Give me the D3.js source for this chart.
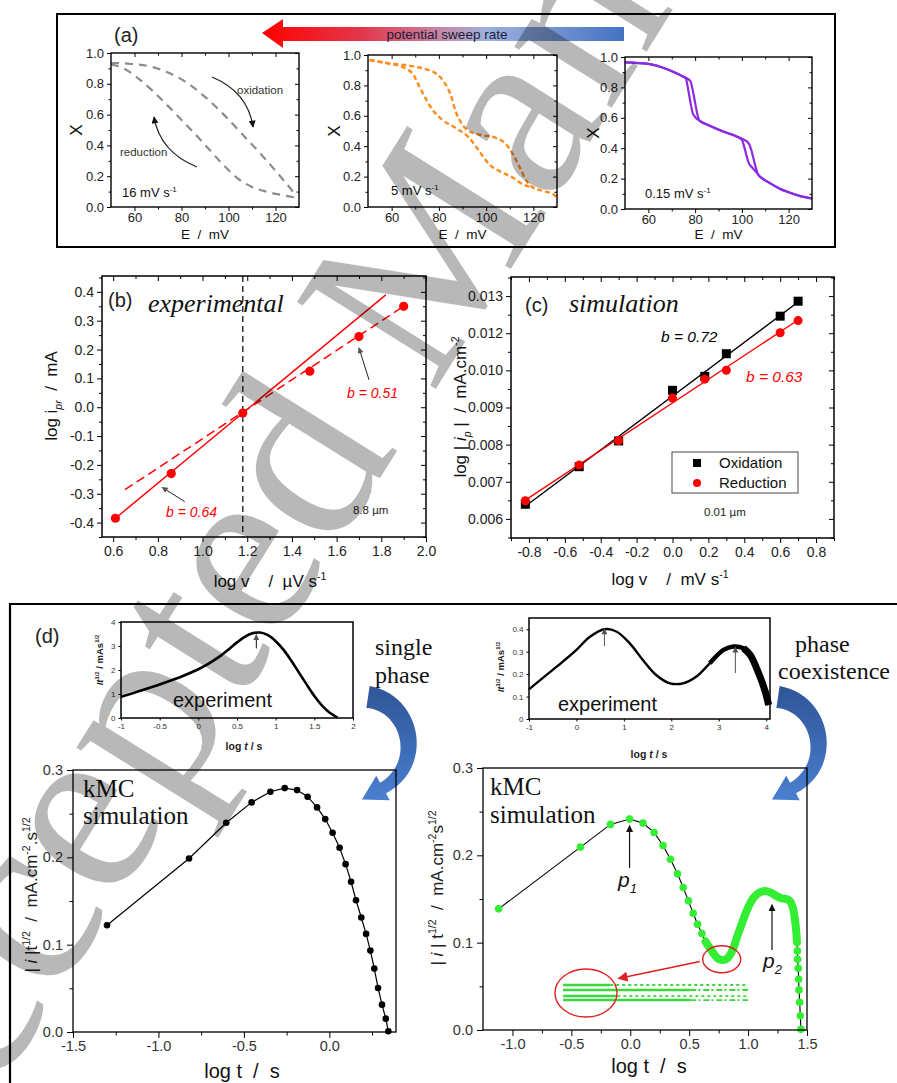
<!DOCTYPE html>
<html><head><meta charset="utf-8">
<script src="https://cdn.jsdelivr.net/npm/d3@7/dist/d3.min.js"></script>
<style>
body{margin:0;background:#fff}
svg{display:block}
text{white-space:pre}
</style></head><body>
<script>
// ================= data =================
// (a) fraction X vs potential E (mV), three sweep rates
const E16ox  = [50,58,66,74,82,90,98,106,114,122,129];
const X16ox  = [0.935,0.93,0.915,0.875,0.81,0.715,0.6,0.47,0.34,0.2,0.07];
const E16red = [50,56,62,68,74,80,86,92,98,104,110,116,122,129];
const X16red = [0.925,0.895,0.83,0.75,0.66,0.565,0.47,0.37,0.27,0.185,0.13,0.1,0.08,0.06];

const E5ox  = [50.7,58.6,65.7,72.9,78.6,82.1,85,87.1,90,94.3,98.6,104.3,108.6,111.4,114.3,117.1,120,124.3,128.6,130];
const X5ox  = [0.967,0.945,0.934,0.913,0.88,0.825,0.738,0.629,0.541,0.487,0.472,0.454,0.41,0.345,0.258,0.17,0.127,0.105,0.083,0.065];
const E5red = [50.7,58.6,65.7,69.3,71.4,74.3,77.9,81.4,87.1,92.9,97.1,101.4,105.7,111.4,115.7,120];
const X5red = [0.967,0.945,0.913,0.869,0.803,0.716,0.629,0.574,0.52,0.454,0.367,0.279,0.236,0.192,0.148,0.127];

const E015ox  = [50,60,68,75,77,78,79,80,81,82,86,92,98,101,103,104,105,106,107,108,112,116,120,125,130];
const X015ox  = [0.965,0.955,0.92,0.87,0.855,0.84,0.78,0.70,0.62,0.58,0.55,0.51,0.475,0.455,0.43,0.39,0.33,0.27,0.225,0.21,0.17,0.135,0.11,0.085,0.07];
const E015red = [50,60,68,75,76,77,78,79,80,82,86,92,98,100,101,102,103,104,106,108,112,116,120,125,130];
const X015red = [0.965,0.955,0.92,0.87,0.86,0.79,0.70,0.63,0.605,0.58,0.55,0.51,0.475,0.455,0.41,0.35,0.30,0.28,0.245,0.21,0.17,0.135,0.11,0.085,0.07];

// (b) experimental peak currents
const bLogV = [0.61,0.86,1.18,1.48,1.70,1.90];
const bLogI = [-0.385,-0.23,-0.02,0.125,0.245,0.35];
const bSlopes = [0.64, 0.51];           // fitted slopes b
const bFitFrom = [[0.61,1.82],[0.653,1.90]];
const bSplit = 1.18;

// (c) simulated peak currents
const cLogV = [-0.82,-0.52,-0.30,0.0,0.18,0.30,0.60,0.70];
const cOx   = [0.00646,0.00764,0.00845,0.01004,0.01048,0.01119,0.01237,0.01284];
const cRed  = [0.00657,0.00769,0.00846,0.00980,0.01039,0.01067,0.01185,0.01223];
const cYTickLabels = ["0.006","0.007","0.008","0.009","0.010","0.012","0.013"];

// (d) transients, experiment insets
const expLT = [-1,-0.8,-0.6,-0.4,-0.2,0,0.1,0.2,0.3,0.4,0.5,0.6,0.7,0.8,0.9,1.0,1.1,1.2,1.3,1.4,1.5,1.6,1.7,1.8];
const expLJ = [0.88,1.08,1.29,1.51,1.75,2.03,2.2,2.4,2.62,2.88,3.15,3.38,3.53,3.56,3.45,3.20,2.85,2.40,1.90,1.40,0.92,0.52,0.22,0.02];
const expRT = [-1.0,-0.72,-0.37,0.0,0.27,0.59,0.84,1.12,1.40,1.68,1.97,2.25,2.53,2.81,3.10,3.31,3.52,3.66,3.84,3.98,4.05];
const expRJ = [0.132,0.181,0.241,0.308,0.364,0.400,0.39,0.338,0.263,0.196,0.159,0.159,0.189,0.248,0.308,0.323,0.315,0.286,0.204,0.122,0.062];

// (d) kMC simulation, single phase
const dLeftT = [-1.301,-0.821,-0.603,-0.455,-0.345,-0.261,-0.189,-0.127,-0.072,-0.024,0.019,0.060,0.095,0.127,0.156,0.187,0.215,0.240,0.263,0.285,0.308,0.330,0.345];
const dLeftJ = [0.1223,0.1987,0.2396,0.2629,0.2751,0.2793,0.2770,0.2694,0.2572,0.2438,0.2281,0.2109,0.1922,0.1720,0.1509,0.1311,0.1123,0.0932,0.0726,0.0504,0.0313,0.0153,0.0008];

// (d) kMC simulation, phase coexistence
const dRightT = [-1.117,-0.423,-0.168,-0.006,0.108,0.202,0.278,0.341,0.401,0.449,0.494,0.534,0.571,0.608,0.639];
const dRightJ = [0.1387,0.2094,0.2354,0.2415,0.2369,0.2262,0.2113,0.1956,0.1788,0.1632,0.1479,0.1337,0.1211,0.1104,0.1013];
const dRightDenseT = [0.676,0.710,0.741,0.776,0.813,0.847,0.875,0.903,0.938,0.974,1.011,1.051,1.097,1.145,1.193,1.239,1.287,1.330,1.358,1.381,1.398,1.409,1.415];
const dRightDenseJ = [0.0936,0.0871,0.0822,0.0802,0.0810,0.0860,0.0936,0.1051,0.1185,0.1318,0.1433,0.1521,0.1574,0.1593,0.1574,0.1536,0.1506,0.1498,0.1471,0.1395,0.1261,0.1127,0.1005];
const dRightTailT = [1.418,1.420,1.426,1.429,1.432,1.438,1.443,1.449];
const dRightTailJ = [0.0906,0.0810,0.0707,0.0581,0.0459,0.0317,0.0164,0.0008];
const zoomRowsJ = [0.0515,0.0458,0.0389,0.0343];
const zoomRowsDenseEnd = [-0.17,0.51,-0.11,0.51];

// ================= drawing =================
const SANS = "'Liberation Sans', Arial, Helvetica, sans-serif";
const SERIF = "'Liberation Serif', 'Times New Roman', serif";
const W = 897, H = 1083;
const svg = d3.select("body").append("svg").attr("width", W).attr("height", H).attr("font-family", SANS);
const defs = svg.append("defs");

function marker(id, color, w, h) {
  defs.append("marker").attr("id", id).attr("viewBox", "0 0 10 10").attr("refX", 9).attr("refY", 5)
    .attr("markerWidth", w).attr("markerHeight", h).attr("markerUnits", "userSpaceOnUse").attr("orient", "auto")
    .append("path").attr("d", "M0,0L10,5L0,10z").attr("fill", color);
}
marker("ah-black", "#111", 8, 7);
marker("ah-gray", "#555", 7, 6);
marker("ah-red", "#e02020", 12, 10);

const f1 = v => (Math.abs(v) < 1e-9 ? 0 : v).toFixed(1);
const fLoose = v => String(Math.round(v * 10) / 10);

// text with italic / super / subscript pieces
function rich(text, parts, fs) {
  let shift = 0;
  parts.forEach(p => {
    const [s, k = ""] = typeof p === "string" ? [p, ""] : p;
    const target = k.includes("^") ? -0.42 * fs : k.includes("_") ? 0.28 * fs : 0;
    const t = text.append("tspan").attr("dy", target - shift).text(s);
    shift = target;
    if (k.includes("^") || k.includes("_")) t.attr("font-size", fs * 0.62);
    if (k.includes("i")) t.attr("font-style", "italic");
  });
}
function label(g, x, y, parts, o = {}) {
  const fs = o.fs || 14;
  const t = g.append("text").attr("x", x).attr("y", y).attr("font-size", fs)
    .attr("font-family", o.family || SANS).attr("fill", o.fill || "#111")
    .attr("text-anchor", o.anchor || "start");
  if (o.rotate) t.attr("transform", `rotate(${o.rotate},${x},${y})`);
  if (o.weight) t.attr("font-weight", o.weight);
  if (o.style) t.attr("font-style", o.style);
  rich(t, typeof parts === "string" ? [parts] : parts, fs);
  return t;
}

// boxed axes with major/minor ticks
function axes(g, x, y, o) {
  const [xa, xb] = x.range(), [ya, yb] = y.range();
  const T = o.T ?? 5, t = o.t ?? 3, fs = o.fs ?? 13, col = o.col || "#000";
  const style = s => {
    s.select(".domain").remove();
    s.selectAll("line").attr("stroke", col).attr("stroke-width", o.tw || 1);
    s.selectAll("text").attr("font-family", SANS).attr("font-size", fs).attr("fill", o.lc || "#222")
      .attr("font-weight", o.lw || null);
  };
  const add = (gen, tx, ty) => g.append("g").attr("transform", `translate(${tx},${ty})`).call(gen).call(style);
  add(d3.axisBottom(x).tickValues(o.xt).tickFormat(o.xf).tickSize(T).tickPadding(o.xp ?? 3), 0, ya);
  if (o.xm) add(d3.axisBottom(x).tickValues(o.xm).tickFormat("").tickSize(t), 0, ya);
  add(d3.axisLeft(y).tickValues(o.yt).tickFormat(o.yf).tickSize(T).tickPadding(o.yp ?? 3), xa, 0);
  if (o.ym) add(d3.axisLeft(y).tickValues(o.ym).tickFormat("").tickSize(t), xa, 0);
  if (o.inner) {
    add(d3.axisTop(x).tickValues(o.xt).tickFormat("").tickSize(-T), 0, yb);
    if (o.xm) add(d3.axisTop(x).tickValues(o.xm).tickFormat("").tickSize(-t), 0, yb);
    add(d3.axisRight(y).tickValues(o.yt).tickFormat("").tickSize(-T), xb, 0);
    if (o.ym) add(d3.axisRight(y).tickValues(o.ym).tickFormat("").tickSize(-t), xb, 0);
  }
  g.append("rect").attr("x", xa).attr("y", yb).attr("width", xb - xa).attr("height", ya - yb)
    .attr("fill", "none").attr("stroke", col).attr("stroke-width", o.sw || 1.5);
}
const zip = (a, b) => a.map((v, i) => [v, b[i]]);

// ---------- (a) ----------
const ga = svg.append("g");
ga.append("rect").attr("x", 57).attr("y", 14).attr("width", 778).attr("height", 233)
  .attr("fill", "none").attr("stroke", "#000").attr("stroke-width", 2);
label(ga, 114, 42, "(a)", { fs: 20, fill: "#222" });

const sweep = defs.append("linearGradient").attr("id", "sweep");
[[0, "#ff0000"], [0.28, "#e2384e"], [0.5, "#c48aa6"], [0.62, "#9eb0dc"], [1, "#4472c4"]]
  .forEach(([o, c]) => sweep.append("stop").attr("offset", o).attr("stop-color", c));
ga.append("path").attr("d", "M262,33L283,19L283,27L624,27L624,41L283,41L283,48Z").attr("fill", "url(#sweep)");
label(ga, 447, 38.5, "potential sweep rate", { fs: 13.5, anchor: "middle", fill: "#1c1c3a" });

const aPanels = [
  { xr: [111, 299], yr: [207, 53], data: [[E16ox, X16ox], [E16red, X16red]], color: "#8c8c8c", dash: "8,6", w: 2.2,
    rate: ["16 mV s", ["-1", "^"]], rx: 122, ry: 197, ylx: 82 },
  { xr: [368, 557], yr: [207, 55], data: [[E5ox, X5ox], [E5red, X5red]], color: "#ff8c1a", dash: "5,3", w: 2.4,
    rate: ["5 mV s", ["-1", "^"]], rx: 391, ry: 195, ylx: 340 },
  { xr: [625, 812], yr: [209, 57], data: [[E015ox, X015ox], [E015red, X015red]], color: "#8a2be2", dash: null, w: 2.2,
    rate: ["0.15 mV s", ["-1", "^"]], rx: 645, ry: 198, ylx: 599 },
];
aPanels.forEach(p => {
  const x = d3.scaleLinear().domain([50, 130]).range(p.xr);
  const y = d3.scaleLinear().domain([0, 1]).range(p.yr);
  const g = ga.append("g");
  const line = d3.line().x(d => x(d[0])).y(d => y(d[1])).curve(d3.curveMonotoneX);
  p.data.forEach(([E, X]) => {
    g.append("path").attr("d", line(zip(E, X))).attr("fill", "none").attr("stroke", p.color)
      .attr("stroke-width", p.w).attr("stroke-dasharray", p.dash);
  });
  axes(g, x, y, { xt: [60, 80, 100, 120], xm: [70, 90, 110], xf: d => d,
    yt: [0, 0.2, 0.4, 0.6, 0.8, 1.0], ym: [0.1, 0.3, 0.5, 0.7, 0.9], yf: f1,
    fs: 13, T: 4, t: 2.5, inner: true, sw: 1.4, xp: 2, yp: 3 });
  label(g, (p.xr[0] + p.xr[1]) / 2, 239, "E  /  mV", { fs: 13.5, anchor: "middle" });
  label(g, p.ylx, (p.yr[0] + p.yr[1]) / 2, "X", { fs: 17, anchor: "middle", rotate: -90 });
  label(g, p.rx, p.ry, p.rate, { fs: 13 });
});
// direction hints in the 16 mV/s plot
ga.append("path").attr("d", "M212,77Q248,92 253,127").attr("fill", "none").attr("stroke", "#222")
  .attr("stroke-width", 1.3).attr("marker-end", "url(#ah-black)");
ga.append("path").attr("d", "M197,167Q160,152 154,117").attr("fill", "none").attr("stroke", "#222")
  .attr("stroke-width", 1.3).attr("marker-end", "url(#ah-black)");
label(ga, 237, 94, "oxidation", { fs: 11.5, fill: "#333" });
label(ga, 120, 156, "reduction", { fs: 11.5, fill: "#333" });

// ---------- (b) ----------
const gb = svg.append("g");
const xB = d3.scaleLinear().domain([0.55, 2.0]).range([102, 426]);
const yB = d3.scaleLinear().domain([-0.45, 0.455]).range([537, 276]);
gb.append("line").attr("x1", xB(bSplit)).attr("x2", xB(bSplit)).attr("y1", yB.range()[1]).attr("y2", yB.range()[0])
  .attr("stroke", "#333").attr("stroke-width", 1.5).attr("stroke-dasharray", "6,4");
// fitted lines: solid through the first point, dashed through the last
[[0, bLogV[0], bLogI[0], null], [1, bLogV[5], bLogI[5], "9,5"]].forEach(([k, x0, y0, dash]) => {
  const [a, b] = bFitFrom[k];
  gb.append("line").attr("x1", xB(a)).attr("y1", yB(y0 + bSlopes[k] * (a - x0)))
    .attr("x2", xB(b)).attr("y2", yB(y0 + bSlopes[k] * (b - x0)))
    .attr("stroke", "#ff0000").attr("stroke-width", 1.5).attr("stroke-dasharray", dash);
});
gb.selectAll("circle").data(zip(bLogV, bLogI)).join("circle")
  .attr("cx", d => xB(d[0])).attr("cy", d => yB(d[1])).attr("r", 4.6).attr("fill", "#ff0000");
axes(gb, xB, yB, { xt: d3.range(6, 21, 2).map(v => v / 10), xm: d3.range(7, 20, 2).map(v => v / 10), xf: f1,
  yt: d3.range(-4, 5).map(v => v / 10), ym: d3.range(-45, 46, 10).map(v => v / 100), yf: f1,
  fs: 14, T: 5, t: 3, inner: true, sw: 1.5, xp: 4, yp: 3 });
gb.append("line").attr("x1", xB(0.92)).attr("y1", yB(-0.327)).attr("x2", xB(0.819)).attr("y2", yB(-0.278))
  .attr("stroke", "#222").attr("stroke-width", 1).attr("marker-end", "url(#ah-gray)");
gb.append("line").attr("x1", xB(1.745)).attr("y1", yB(0.095)).attr("x2", xB(1.70)).attr("y2", yB(0.206))
  .attr("stroke", "#222").attr("stroke-width", 1).attr("marker-end", "url(#ah-gray)");
label(gb, 166, 517, [["b", "i"], [" = 0.64", "i"]], { fs: 14, fill: "#ff0000" });
label(gb, 347, 398, [["b", "i"], [" = 0.51", "i"]], { fs: 14, fill: "#ff0000" });
label(gb, 353, 514, "8.8 µm", { fs: 11.5, fill: "#222" });
label(gb, 108, 307, "(b)", { fs: 20, fill: "#222" });
label(gb, 148, 312, "experimental", { fs: 26, family: SERIF, style: "italic", fill: "#111" });
label(gb, 57, 396, ["log i", ["pr", "_i"], "  /  mA"], { fs: 17, anchor: "middle", rotate: -90 });
label(gb, 270, 587, ["log v    /  µV s", ["-1", "^"]], { fs: 17, anchor: "middle" });

// ---------- (c) ----------
const gc = svg.append("g");
const xC = d3.scaleLinear().domain([-0.9, 0.9]).range([511, 834]);
const yC = d3.scaleLinear().domain([0.0054, 0.0136]).range([538, 277]);
const cYTicks = cYTickLabels.map((_, i) => 0.006 + i * 0.007 / 6);
function fit(xs, ys) {
  const mx = d3.mean(xs), my = d3.mean(ys);
  const s = d3.sum(xs, (v, i) => (v - mx) * (ys[i] - my)) / d3.sum(xs, v => (v - mx) ** 2);
  return v => my + s * (v - mx);
}
[[cOx, "#000"], [cRed, "#ff0000"]].forEach(([ys, c]) => {
  const f = fit(cLogV, ys), a = d3.min(cLogV), b = d3.max(cLogV);
  gc.append("line").attr("x1", xC(a)).attr("y1", yC(f(a))).attr("x2", xC(b)).attr("y2", yC(f(b)))
    .attr("stroke", c).attr("stroke-width", 1.4);
});
gc.selectAll("rect.ox").data(zip(cLogV, cOx)).join("rect").attr("class", "ox")
  .attr("x", d => xC(d[0]) - 4.5).attr("y", d => yC(d[1]) - 4.5).attr("width", 9).attr("height", 9).attr("fill", "#000");
gc.selectAll("circle.red").data(zip(cLogV, cRed)).join("circle").attr("class", "red")
  .attr("cx", d => xC(d[0])).attr("cy", d => yC(d[1])).attr("r", 4.5).attr("fill", "#ff0000");
axes(gc, xC, yC, { xt: d3.range(-8, 9, 2).map(v => v / 10), xm: d3.range(-9, 10, 2).map(v => v / 10), xf: f1,
  yt: cYTicks, ym: cYTicks.slice(1).map((v, i) => (v + cYTicks[i]) / 2).concat([0.013 + 0.007 / 12, 0.006 - 0.007 / 12]),
  yf: (v, i) => cYTickLabels[i], fs: 14, T: 5, t: 3, inner: true, sw: 1.5, xp: 4, yp: 3 });
gc.append("rect").attr("x", 672).attr("y", 452).attr("width", 126).attr("height", 41)
  .attr("fill", "#fff").attr("stroke", "#666").attr("stroke-width", 1.2);
gc.append("rect").attr("x", 693).attr("y", 459).attr("width", 8).attr("height", 8).attr("fill", "#000");
gc.append("circle").attr("cx", 697).attr("cy", 483).attr("r", 4).attr("fill", "#ff0000");
label(gc, 719, 468, "Oxidation", { fs: 15 });
label(gc, 719, 488, "Reduction", { fs: 15 });
label(gc, 661, 342, [["b", "i"], [" = 0.72", "i"]], { fs: 15.5, fill: "#000" });
label(gc, 746, 382, [["b", "i"], [" = 0.63", "i"]], { fs: 15.5, fill: "#ff0000" });
label(gc, 704, 516, "0.01 µm", { fs: 11.5, fill: "#222" });
label(gc, 525, 312, "(c)", { fs: 20, fill: "#222" });
label(gc, 569, 312, "simulation", { fs: 26, family: SERIF, style: "italic", fill: "#111" });
label(gc, 466, 407, ["log | ", ["i", "i"], ["p", "_i"], " |  /  mA.cm", ["-2", "^"]], { fs: 17, anchor: "middle", rotate: -90 });
label(gc, 670, 585, ["log v    /  mV s", ["-1", "^"]], { fs: 17, anchor: "middle" });

// ---------- (d) ----------
const gd = svg.append("g");
gd.append("path").attr("d", "M10,1083L10,604L897,604").attr("fill", "none").attr("stroke", "#000").attr("stroke-width", 2.2);
label(gd, 35, 643, "(d)", { fs: 20, fill: "#222" });

// experiment insets
const xIL = d3.scaleLinear().domain([-1, 2]).range([121, 353]);
const yIL = d3.scaleLinear().domain([0, 4]).range([718, 622]);
gd.append("path").attr("d", d3.line().x(d => xIL(d[0])).y(d => yIL(d[1])).curve(d3.curveCatmullRom)(zip(expLT, expLJ)))
  .attr("fill", "none").attr("stroke", "#000").attr("stroke-width", 2.6);
axes(gd, xIL, yIL, { xt: d3.range(-10, 21, 5).map(v => v / 10), xf: fLoose, yt: [0, 1, 2, 3, 4], yf: d => d,
  fs: 8, T: 2.5, inner: false, sw: 1.5, xp: 3, yp: 3, lc: "#333" });
gd.append("line").attr("x1", xIL(0.75)).attr("y1", yIL(2.9)).attr("x2", xIL(0.75)).attr("y2", yIL(3.47))
  .attr("stroke", "#111").attr("stroke-width", 1).attr("marker-end", "url(#ah-gray)");
label(gd, 173, 707, "experiment", { fs: 20, fill: "#111" });
label(gd, 103, 660, [["It", "i"], ["1/2", "^"], " / mAs", ["1/2", "^"]], { fs: 9.5, anchor: "middle", rotate: -90, weight: "bold", fill: "#222" });
label(gd, 244, 750, ["log ", ["t", "i"], " / s"], { fs: 10.5, anchor: "middle", weight: "bold", fill: "#222" });

const xIR = d3.scaleLinear().domain([-1, 4.08]).range([529, 770]);
const yIR = d3.scaleLinear().domain([0, 0.45]).range([719, 618]);
const lineIR = d3.line().x(d => xIR(d[0])).y(d => yIR(d[1])).curve(d3.curveCatmullRom);
const expR = zip(expRT, expRJ);
gd.append("path").attr("d", lineIR(expR)).attr("fill", "none").attr("stroke", "#000").attr("stroke-width", 2.4);
gd.append("path").attr("d", lineIR(expR.filter(d => d[0] >= 2.8))).attr("fill", "none").attr("stroke", "#000").attr("stroke-width", 4.5);
gd.append("path").attr("d", lineIR(expR.filter(d => d[0] >= 3.5))).attr("fill", "none").attr("stroke", "#000").attr("stroke-width", 7);
axes(gd, xIR, yIR, { xt: [-1, 0, 1, 2, 3, 4], xf: d => d, yt: [0, 0.1, 0.2, 0.3, 0.4], yf: d => (d === 0 ? "0" : d.toFixed(1)),
  fs: 8, T: 2.5, inner: false, sw: 1.5, xp: 3, yp: 3, lc: "#333" });
gd.append("line").attr("x1", xIR(0.59)).attr("y1", yIR(0.325)).attr("x2", xIR(0.59)).attr("y2", yIR(0.402))
  .attr("stroke", "#555").attr("stroke-width", 1).attr("marker-end", "url(#ah-gray)");
gd.append("line").attr("x1", xIR(3.35)).attr("y1", yIR(0.205)).attr("x2", xIR(3.35)).attr("y2", yIR(0.32))
  .attr("stroke", "#555").attr("stroke-width", 1).attr("marker-end", "url(#ah-gray)");
label(gd, 558, 711, "experiment", { fs: 20, fill: "#111" });
label(gd, 504, 667, [["It", "i"], ["1/2", "^"], " / mAs", ["1/2", "^"]], { fs: 9.5, anchor: "middle", rotate: -90, weight: "bold", fill: "#222" });
label(gd, 649, 758, ["log ", ["t", "i"], " / s"], { fs: 10.5, anchor: "middle", weight: "bold", fill: "#222" });

label(gd, 375, 655, "single", { fs: 24, family: SERIF, fill: "#111" });
label(gd, 375, 683, "phase", { fs: 24, family: SERIF, fill: "#111" });
label(gd, 795, 652, "phase", { fs: 24, family: SERIF, fill: "#111" });
label(gd, 778, 679, "coexistence", { fs: 24, family: SERIF, fill: "#111" });

// curved blue arrows
const blue = defs.append("linearGradient").attr("id", "bluearrow").attr("x1", 0).attr("x2", 0).attr("y1", 0).attr("y2", 1);
[[0, "#2f5597"], [1, "#4a7fd0"]].forEach(([o, c]) => blue.append("stop").attr("offset", o).attr("stop-color", c));
function bendArrow(dx) {
  const S = [368 + dx, 697], C1 = [412 + dx, 703], C2 = [425 + dx, 765], P = [383 + dx, 788];
  const bez = t => [0, 1].map(k => (1 - t) ** 3 * S[k] + 3 * (1 - t) ** 2 * t * C1[k] + 3 * (1 - t) * t * t * C2[k] + t ** 3 * P[k]);
  const left = [], right = [];
  const N = 30;
  for (let i = 0; i <= N; i++) {
    const t = i / N, a = bez(Math.max(0, t - 0.01)), b = bez(Math.min(1, t + 0.01)), c = bez(t);
    const L = Math.hypot(b[0] - a[0], b[1] - a[1]), nx = -(b[1] - a[1]) / L, ny = (b[0] - a[0]) / L;
    const w = 11 - 5 * t;
    left.push([c[0] + nx * w, c[1] + ny * w]); right.push([c[0] - nx * w, c[1] - ny * w]);
  }
  const dir = [(P[0] - C2[0]), (P[1] - C2[1])], dl = Math.hypot(...dir);
  const ux = dir[0] / dl, uy = dir[1] / dl, nx = -uy, ny = ux;
  const head = [[P[0] + nx * 14, P[1] + ny * 14], [P[0] + ux * 24, P[1] + uy * 24], [P[0] - nx * 14, P[1] - ny * 14]];
  const pts = left.concat(head, right.reverse());
  gd.append("path").attr("d", "M" + pts.map(p => p.join(",")).join("L") + "Z").attr("fill", "url(#bluearrow)");
}
bendArrow(0); bendArrow(410);

// kMC, single phase
const xDL = d3.scaleLinear().domain([-1.5, 0.39]).range([73, 396]);
const yDL = d3.scaleLinear().domain([0, 0.3]).range([1032, 770]);
const dL = zip(dLeftT, dLeftJ);
gd.append("path").attr("d", d3.line().x(d => xDL(d[0])).y(d => yDL(d[1]))(dL)).attr("fill", "none").attr("stroke", "#000").attr("stroke-width", 1.2);
gd.selectAll("circle.dl").data(dL).join("circle").attr("class", "dl")
  .attr("cx", d => xDL(d[0])).attr("cy", d => yDL(d[1])).attr("r", 3.3).attr("fill", "#000");
axes(gd, xDL, yDL, { xt: [-1.5, -1.0, -0.5, 0.0], xm: [-1.25, -0.75, -0.25, 0.25], xf: f1,
  yt: [0, 0.1, 0.2, 0.3], ym: [0.05, 0.15, 0.25], yf: f1, fs: 14.5, T: 6, t: 3.5, inner: false, sw: 1.3, xp: 3, yp: 4, lc: "#333" });
label(gd, 83, 797, "kMC", { fs: 25, family: SERIF, fill: "#111" });
label(gd, 83, 824, "simulation", { fs: 25, family: SERIF, fill: "#111" });
label(gd, 37, 895, ["| ", ["i", "i"], " |t", ["1/2", "^"], "  /  mA.cm", ["-2", "^"], ".s", ["1/2", "^"]], { fs: 17, anchor: "middle", rotate: -90, fill: "#222" });
label(gd, 242, 1078, "log t  /  s", { fs: 20, anchor: "middle" });

// kMC, phase coexistence
const xDR = d3.scaleLinear().domain([-1.25, 1.5]).range([483, 807]);
const yDR = d3.scaleLinear().domain([0, 0.3]).range([1030, 768]);
const lineDR = d3.line().x(d => xDR(d[0])).y(d => yDR(d[1]));
const dRs = zip(dRightT, dRightJ), dRd = zip(dRightDenseT, dRightDenseJ), dRt = zip(dRightTailT, dRightTailJ);
const GREEN = "#33ee33";
gd.append("path").attr("d", lineDR(dRs.concat(dRd, dRt))).attr("fill", "none").attr("stroke", "#000").attr("stroke-width", 1.1);
gd.append("path").attr("d", d3.line().x(d => xDR(d[0])).y(d => yDR(d[1])).curve(d3.curveCatmullRom)([dRs[dRs.length - 1]].concat(dRd)))
  .attr("fill", "none").attr("stroke", GREEN).attr("stroke-width", 8).attr("stroke-linecap", "round").attr("stroke-linejoin", "round");
gd.selectAll("circle.dr").data(dRs.concat(dRt)).join("circle").attr("class", "dr")
  .attr("cx", d => xDR(d[0])).attr("cy", d => yDR(d[1])).attr("r", 3.8).attr("fill", GREEN);
axes(gd, xDR, yDR, { xt: [-1.0, -0.5, 0.0, 0.5, 1.0, 1.5], xm: [-0.75, -0.25, 0.25, 0.75, 1.25], xf: f1,
  yt: [0, 0.1, 0.2, 0.3], ym: [0.05, 0.15, 0.25], yf: f1, fs: 14.5, T: 6, t: 3.5, inner: false, sw: 1.3, xp: 3, yp: 4, lc: "#333" });
// peak markers
gd.append("line").attr("x1", xDR(-0.006)).attr("y1", yDR(0.1855)).attr("x2", xDR(-0.006)).attr("y2", yDR(0.234))
  .attr("stroke", "#111").attr("stroke-width", 1.2).attr("marker-end", "url(#ah-black)");
gd.append("line").attr("x1", xDR(1.203)).attr("y1", yDR(0.0916)).attr("x2", xDR(1.203)).attr("y2", yDR(0.1435))
  .attr("stroke", "#111").attr("stroke-width", 1.2).attr("marker-end", "url(#ah-black)");
label(gd, 618, 887, [["p", "i"], ["1", "_i"]], { fs: 21, fill: "#111" });
label(gd, 763, 968, [["p", "i"], ["2", "_i"]], { fs: 21, fill: "#111" });
// magnified view of the minimum
zoomRowsJ.forEach((j, i) => {
  gd.append("line").attr("x1", xDR(-0.57)).attr("x2", xDR(zoomRowsDenseEnd[i])).attr("y1", yDR(j)).attr("y2", yDR(j))
    .attr("stroke", "#3ad83a").attr("stroke-width", 2.4);
  gd.append("line").attr("x1", xDR(zoomRowsDenseEnd[i])).attr("x2", xDR(1.0)).attr("y1", yDR(j)).attr("y2", yDR(j))
    .attr("stroke", "#3ad83a").attr("stroke-width", 1.8).attr("stroke-dasharray", i % 2 ? "6,2,2,3" : "3,3");
});
gd.append("ellipse").attr("cx", xDR(0.776)).attr("cy", yDR(0.081)).attr("rx", 19).attr("ry", 13.5)
  .attr("fill", "none").attr("stroke", "#e02020").attr("stroke-width", 1.4);
gd.append("ellipse").attr("cx", xDR(-0.376)).attr("cy", yDR(0.0424)).attr("rx", 31).attr("ry", 24)
  .attr("fill", "none").attr("stroke", "#e02020").attr("stroke-width", 1.4);
gd.append("line").attr("x1", xDR(0.59)).attr("y1", yDR(0.0785)).attr("x2", xDR(-0.1)).attr("y2", yDR(0.059))
  .attr("stroke", "#e02020").attr("stroke-width", 1.6).attr("marker-end", "url(#ah-red)");
label(gd, 490, 795, "kMC", { fs: 25, family: SERIF, fill: "#111" });
label(gd, 490, 823, "simulation", { fs: 25, family: SERIF, fill: "#111" });
label(gd, 443, 888, ["| ", ["i", "i"], " | t", ["1/2", "^"], "  /  mA.cm", ["-2", "^"], "s", ["1/2", "^"]], { fs: 17, anchor: "middle", rotate: -90, fill: "#222" });
label(gd, 649, 1073, "log t  /  s", { fs: 20, anchor: "middle" });

// ---------- watermark ----------
const WMF = 250, ang = -58, rad = ang * Math.PI / 180;
const wm = svg.append("text").attr("font-family", SERIF).attr("font-size", WMF)
  .attr("fill", "#000").attr("fill-opacity", 0.28).text("Accepted Manuscript");
const dir = [Math.cos(rad), Math.sin(rad)], up = [Math.sin(rad), -Math.cos(rad)];
const sx = wm.node().getStartPositionOfChar(7).x;
const bowl = [313, 477];
const p0 = [bowl[0] - 0.22 * WMF * dir[0] - 0.23 * WMF * up[0], bowl[1] - 0.22 * WMF * dir[1] - 0.23 * WMF * up[1]];
wm.attr("transform", `translate(${p0[0] - sx * dir[0]},${p0[1] - sx * dir[1]}) rotate(${ang})`);
</script>
</body></html>
